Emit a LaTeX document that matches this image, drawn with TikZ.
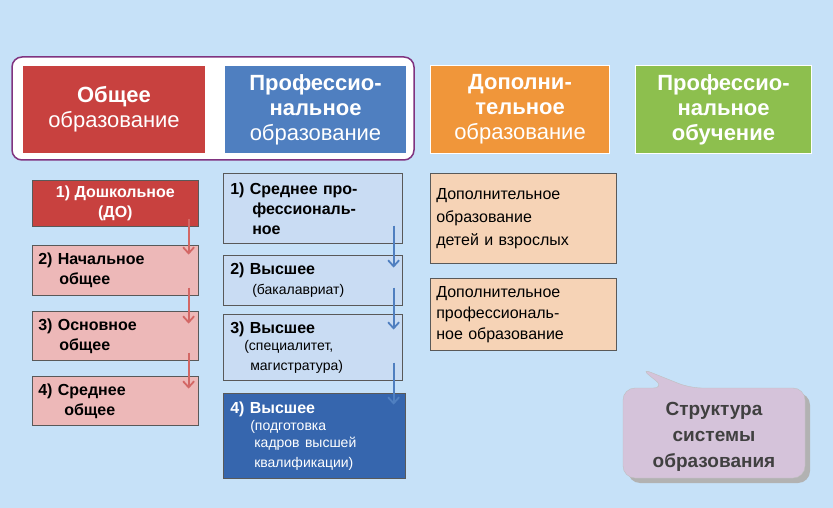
\documentclass[tikz,border=0pt]{standalone}
\usepackage{fontspec}
\setmainfont{Liberation Sans}
\usetikzlibrary{arrows.meta}
\definecolor{bg}{HTML}{C6E1F8}
\definecolor{hred}{HTML}{C8413F}
\definecolor{hblue}{HTML}{4F7FC0}
\definecolor{horange}{HTML}{F0963A}
\definecolor{hgreen}{HTML}{8DBF4E}
\definecolor{pinkb}{HTML}{EDB8B8}
\definecolor{lblue}{HTML}{C9DCF3}
\definecolor{dblue}{HTML}{3666AE}
\definecolor{lorange}{HTML}{F6D3B6}
\definecolor{callc}{HTML}{D5C3DA}
\newcommand{\sm}{\mdseries\fontsize{14}{17}\selectfont}
\tikzset{
 hdr/.style={draw=white,line width=1pt,text=white,font=\fontsize{22}{25}\selectfont\bfseries,align=center,anchor=north west,inner sep=0pt},
 item/.style={draw=gray!70!black,line width=0.6pt,font=\fontsize{16}{20}\selectfont\bfseries,align=left,anchor=north west,inner sep=0pt},
 flow/.style={line width=1.8pt,-{Straight Barb[length=6pt,width=11pt]}},
}
\begin{document}
\begin{tikzpicture}[x=1pt,y=-1pt]
\fill[bg] (0,0) rectangle (833,508);
\useasboundingbox (0,0) rectangle (833,508);
\draw[rounded corners=10pt,line width=1.5pt,draw=violet!60!gray,fill=white] (12,57) rectangle (414,160);
\node[hdr,fill=hred,minimum width=183,minimum height=88] (h1) at (22,65) {Общее\\\mdseries образование};
\node[hdr,fill=hblue,minimum width=182,minimum height=88] (h2) at (224,65) {Профессио-\\нальное\\\mdseries образование};
\node[hdr,fill=horange,minimum width=179,minimum height=88] (h3) at (430,65) {Дополни-\\тельное\\\mdseries образование};
\node[hdr,fill=hgreen,minimum width=176,minimum height=88] (h4) at (635,65) {Профессио-\\нальное\\обучение};
% left column
\node[item,fill=hred,text=white,minimum width=166,minimum height=46,align=center] (a1) at (32,180) {1) Дошкольное\\(ДО)};
\node[item,fill=pinkb,minimum width=166,minimum height=50,text width=162] (a2) at (32,245) {\hspace*{4pt}2) Начальное\\\hspace*{25pt}общее};
\node[item,fill=pinkb,minimum width=166,minimum height=49,text width=162] (a3) at (32,311) {\hspace*{4pt}3) Основное\\\hspace*{25pt}общее};
\node[item,fill=pinkb,minimum width=166,minimum height=49,text width=162] (a4) at (32,376) {\hspace*{4pt}4) Среднее\\\hspace*{30pt}общее};
% blue column
\node[item,fill=lblue,minimum width=179,minimum height=70,text width=177] (b1) at (223,173) {\hspace*{6pt}1) Среднее про-\\\hspace*{28pt}фессиональ-\\\hspace*{28pt}ное};
\node[item,fill=lblue,minimum width=179,minimum height=50,text width=177] (b2) at (223,255) {\hspace*{6pt}2) Высшее\\\hspace*{28pt}\sm(бакалавриат)};
\node[item,fill=lblue,minimum width=179,minimum height=66,text width=177] (b3) at (223,314) {\hspace*{6pt}3) Высшее\\\hspace*{20pt}\sm(специалитет,\\\hspace*{26pt}\sm магистратура)};
\node[item,fill=dblue,text=white,minimum width=182,minimum height=85,text width=180] (b4) at (223,393) {\hspace*{6pt}4) Высшее\\\hspace*{26pt}\sm(подготовка\\\hspace*{30pt}\sm кадров высшей\\\hspace*{30pt}\sm квалификации)};
% orange
\node[item,fill=lorange,minimum width=186,minimum height=90,text width=184,font=\fontsize{16}{23}\selectfont] (c1) at (430,173) {\hspace*{5pt}Дополнительное\\\hspace*{5pt}образование\\\hspace*{5pt}детей и взрослых};
\node[item,fill=lorange,minimum width=186,minimum height=72,text width=184,font=\fontsize{16}{21}\selectfont] (c2) at (430,278) {\hspace*{5pt}Дополнительное\\\hspace*{5pt}профессиональ-\\\hspace*{5pt}ное образование};
% arrows
\foreach \u in {a1,a2,a3}
 \draw[flow,draw=hred!80] ([xshift=-10pt,yshift=8pt]\u.south east) -- ++(0,36);
\foreach \u in {b1,b2,b3}
 \draw[flow,draw=hblue] ([xshift=-9pt,yshift=18pt]\u.south east) -- ++(0,42);
% callout
\fill[gray!60,rounded corners=12pt] (628,393) rectangle (810,483);
\draw[fill=callc,draw=gray!50,rounded corners=12pt] (623,388) -- (665,388) -- (640,368) -- (690,388) -- (805,388) -- (805,478) -- (623,478) -- cycle;
\node[font=\fontsize{19}{26}\selectfont\bfseries,text=black!75,align=center] (t) at (714,437) {Структура\\системы\\образования};
\end{tikzpicture}
\end{document}
